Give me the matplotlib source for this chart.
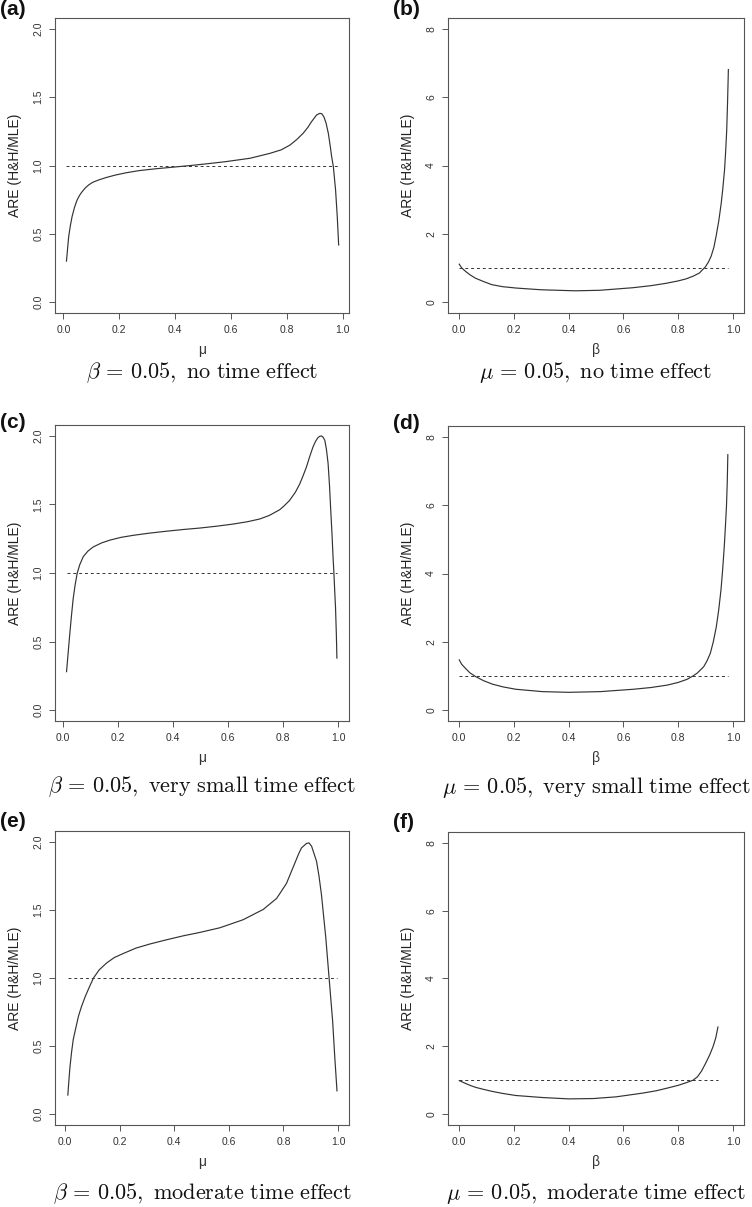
import matplotlib
matplotlib.use("Agg")
import matplotlib.pyplot as plt

plt.rcParams['font.family'] = ['Liberation Sans', 'DejaVu Sans']
plt.rcParams['mathtext.fontset'] = 'cm'

# (a) beta = 0.05, no time effect
mu_a = [0.011, 0.015, 0.019, 0.025, 0.031, 0.04, 0.049, 0.058, 0.067, 0.078, 0.090,
        0.105, 0.126, 0.155, 0.186, 0.225, 0.269, 0.33, 0.388, 0.45, 0.507, 0.58,
        0.668, 0.739, 0.78, 0.811, 0.835, 0.858, 0.875, 0.888, 0.906, 0.918, 0.925,
        0.932, 0.94, 0.948, 0.955, 0.960, 0.966, 0.974, 0.980, 0.985]
are_a = [0.30, 0.39, 0.48, 0.56, 0.625, 0.695, 0.747, 0.782, 0.808, 0.835, 0.857,
         0.877, 0.894, 0.913, 0.930, 0.947, 0.962, 0.976, 0.987, 0.999, 1.011, 1.028,
         1.053, 1.089, 1.115, 1.150, 1.19, 1.236, 1.28, 1.321, 1.370, 1.382, 1.378,
         1.357, 1.31, 1.236, 1.14, 1.064, 0.991, 0.82, 0.625, 0.418]

# (b) mu = 0.05, no time effect
beta_b = [0.001, 0.01, 0.024, 0.04, 0.06, 0.09, 0.12, 0.16, 0.21, 0.30, 0.425,
          0.513, 0.634, 0.70, 0.756, 0.80, 0.829, 0.855, 0.877, 0.899, 0.91, 0.920,
          0.93, 0.938, 0.948, 0.957, 0.963, 0.969, 0.973, 0.977, 0.980, 0.983]
are_b = [1.11, 1.00, 0.90, 0.80, 0.70, 0.60, 0.51, 0.45, 0.41, 0.36, 0.33,
         0.345, 0.42, 0.48, 0.55, 0.62, 0.68, 0.76, 0.85, 1.03, 1.17, 1.34,
         1.60, 1.92, 2.38, 2.90, 3.35, 3.87, 4.40, 5.05, 5.85, 6.81]

# (c) beta = 0.05, very small time effect
mu_c = [0.012, 0.018, 0.024, 0.030, 0.036, 0.043, 0.051, 0.060, 0.073, 0.09, 0.109,
        0.14, 0.17, 0.21, 0.255, 0.31, 0.376, 0.44, 0.497, 0.56, 0.618, 0.67, 0.715,
        0.75, 0.788, 0.805, 0.824, 0.845, 0.861, 0.873, 0.885, 0.897, 0.909, 0.918,
        0.927, 0.934, 0.940, 0.946, 0.952, 0.958, 0.964, 0.969, 0.973, 0.978, 0.982,
        0.985, 0.988, 0.991, 0.994, 0.996]
are_c = [0.28, 0.42, 0.56, 0.69, 0.81, 0.91, 1.00, 1.06, 1.12, 1.16, 1.19,
         1.22, 1.24, 1.26, 1.275, 1.29, 1.305, 1.318, 1.328, 1.342, 1.357, 1.374, 1.394,
         1.42, 1.462, 1.492, 1.53, 1.59, 1.651, 1.71, 1.773, 1.85, 1.920, 1.96,
         1.988, 1.998, 2.0, 1.99, 1.968, 1.90, 1.797, 1.64, 1.48, 1.29, 1.113,
         1.003, 0.87, 0.746, 0.55, 0.379]

# (d) mu = 0.05, very small time effect
beta_d = [0.001, 0.01, 0.024, 0.04, 0.061, 0.09, 0.122, 0.16, 0.207, 0.305, 0.40,
          0.515, 0.637, 0.70, 0.759, 0.80, 0.832, 0.852, 0.869, 0.893, 0.905, 0.917,
          0.928, 0.939, 0.948, 0.956, 0.962, 0.968, 0.972, 0.976, 0.979, 0.981]
are_d = [1.47, 1.34, 1.22, 1.09, 0.98, 0.86, 0.76, 0.68, 0.61, 0.54, 0.52,
         0.54, 0.61, 0.66, 0.73, 0.81, 0.90, 0.99, 1.08, 1.27, 1.44, 1.66,
         2.00, 2.44, 2.95, 3.52, 4.10, 4.79, 5.35, 5.96, 6.70, 7.48]

# (e) beta = 0.05, moderate time effect
mu_e = [0.01, 0.014, 0.018, 0.024, 0.030, 0.04, 0.049, 0.06, 0.073, 0.088, 0.104,
        0.125, 0.152, 0.18, 0.213, 0.26, 0.311, 0.37, 0.433, 0.494, 0.567, 0.652,
        0.726, 0.775, 0.811, 0.842, 0.855, 0.866, 0.884, 0.893, 0.903, 0.921, 0.93,
        0.939, 0.955, 0.967, 0.980, 0.988, 0.996]
are_e = [0.14, 0.25, 0.35, 0.46, 0.55, 0.64, 0.72, 0.79, 0.86, 0.93, 1.00,
         1.06, 1.11, 1.15, 1.18, 1.22, 1.25, 1.28, 1.31, 1.335, 1.369, 1.428,
         1.504, 1.585, 1.695, 1.846, 1.91, 1.956, 1.988, 1.993, 1.968, 1.858, 1.75,
         1.614, 1.296, 1.002, 0.685, 0.415, 0.171]

# (f) mu = 0.05, moderate time effect
beta_f = [0.001, 0.02, 0.04, 0.061, 0.09, 0.122, 0.16, 0.207, 0.305, 0.40, 0.49,
          0.573, 0.67, 0.72, 0.756, 0.80, 0.83, 0.854, 0.87, 0.885, 0.90, 0.915,
          0.927, 0.937, 0.945]
are_f = [0.99, 0.92, 0.85, 0.79, 0.73, 0.67, 0.61, 0.55, 0.49, 0.45, 0.46,
         0.51, 0.62, 0.69, 0.76, 0.85, 0.93, 1.00, 1.10, 1.27, 1.50, 1.75,
         1.99, 2.25, 2.57]

x_ticks = [0.0, 0.2, 0.4, 0.6, 0.8, 1.0]

W, H = 752, 1207
fig = plt.figure(figsize=(W / 100, H / 100), dpi=100)

panels = [
    # label, x, y, xlabel, caption, box (left, top, right, bottom) px, xlim, caption y, label pos
    ("(a)", mu_a, are_a, "μ", r"$\beta\,=\,0.05,\ \mathrm{no\ time\ effect}$",
     (55, 18, 349, 313), (-0.03, 1.022), 373, (0, 0)),
    ("(b)", beta_b, are_b, "β", r"$\mu\,=\,0.05,\ \mathrm{no\ time\ effect}$",
     (448, 18, 744, 313), (-0.04, 1.04), 373, (393, 0)),
    ("(c)", mu_c, are_c, "μ", r"$\beta\,=\,0.05,\ \mathrm{very\ small\ time\ effect}$",
     (55, 425, 349, 721), (-0.03, 1.04), 787, (0, 413)),
    ("(d)", beta_d, are_d, "β", r"$\mu\,=\,0.05,\ \mathrm{very\ small\ time\ effect}$",
     (448, 426, 744, 721), (-0.04, 1.04), 787, (393, 414)),
    ("(e)", mu_e, are_e, "μ", r"$\beta\,=\,0.05,\ \mathrm{moderate\ time\ effect}$",
     (55, 831, 349, 1125), (-0.037, 1.04), 1194, (0, 812)),
    ("(f)", beta_f, are_f, "β", r"$\mu\,=\,0.05,\ \mathrm{moderate\ time\ effect}$",
     (448, 832, 744, 1125), (-0.04, 1.04), 1194, (393, 813)),
]

grey = "#555555"
for lab, xs, ys, xl, cap, box, xlim, cap_y, lab_pos in panels:
    l, t, r, b = box
    ax = fig.add_axes([l / W, 1 - b / H, (r - l) / W, (b - t) / H])
    ax.plot(xs, ys, color="#333333", lw=0.85)
    ax.plot([xs[0], xs[-1]], [1, 1], color="#333333", lw=0.7, dashes=(3, 3))
    ax.set_xlim(*xlim)
    if xl == "μ":
        ax.set_ylim(-0.08, 2.08)
        ax.set_yticks([0.0, 0.5, 1.0, 1.5, 2.0])
        ax.set_yticklabels(["0.0", "0.5", "1.0", "1.5", "2.0"])
    else:
        ax.set_ylim(-0.32, 8.32)
        ax.set_yticks([0, 2, 4, 6, 8])
        ax.set_yticklabels(["0", "2", "4", "6", "8"])
    ax.set_xticks(x_ticks)
    ax.set_xticklabels(["%.1f" % v for v in x_ticks])
    for s in ax.spines.values():
        s.set_color(grey)
        s.set_linewidth(0.8)
    ax.tick_params(direction="out", length=4.5, width=0.7, color=grey,
                   labelsize=7.5, labelcolor="#333333", pad=4)
    for tl in ax.get_yticklabels():
        tl.set_rotation(90)
        tl.set_va("center")
    ax.text(-0.136, 0.5, "ARE (H&H/MLE)", transform=ax.transAxes, rotation=90,
            ha="center", va="center", fontsize=10, color="#222222")
    ax.text(0.5, -0.125, xl, transform=ax.transAxes,
            ha="center", va="center", fontsize=10, color="#333333")
    fig.text((l + r) / 2 / W, 1 - cap_y / H, cap, ha="center", va="center",
             fontsize=16, color="#111111")
    fig.text(lab_pos[0] / W, 1 - lab_pos[1] / H, lab, ha="left", va="top",
             fontsize=15, fontweight="bold", color="#111111")

fig.savefig("out.png", dpi=100)
